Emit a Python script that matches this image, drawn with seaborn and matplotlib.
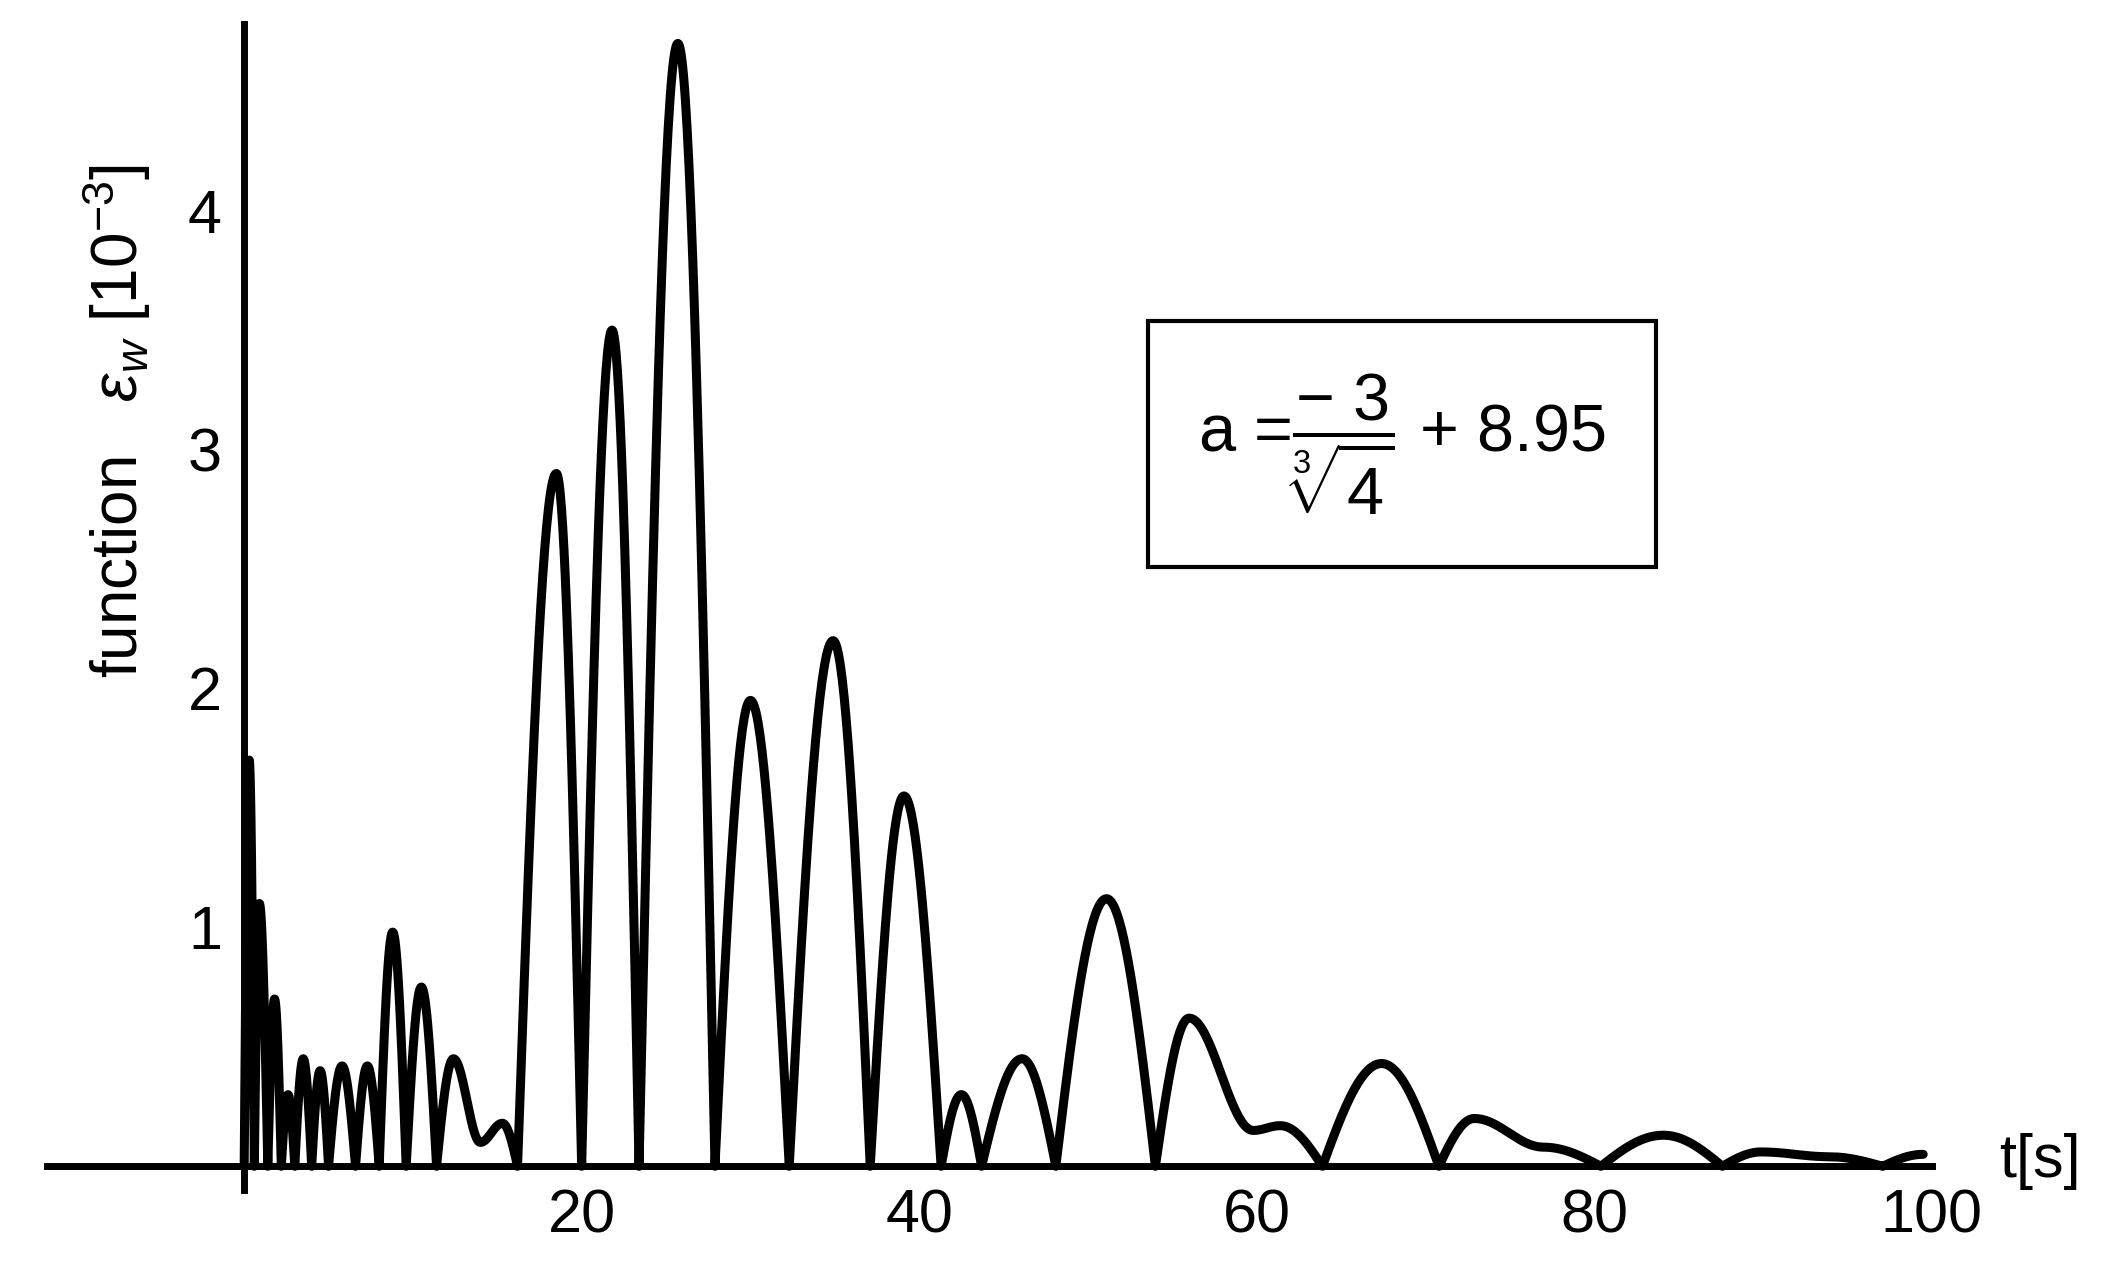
import numpy as np
import pandas as pd
import matplotlib
matplotlib.use("Agg")
import matplotlib.pyplot as plt
import seaborn as sns

# knots of the curve: local extrema and zeros (t, value in 1e-3)
knot_t = [0, 0.3, 0.6, 0.9, 1.4, 1.8, 2.2, 2.6, 3.0, 3.5, 4.0, 4.5, 5.0, 5.8, 6.6, 7.3, 8.0,
          8.8, 9.6, 10.5, 11.4, 12.4, 14.0, 15.3, 16.2, 18.5, 20.0, 21.8, 23.4, 25.7, 27.9,
          30.0, 32.3, 34.9, 37.1, 39.1, 41.3, 42.5, 43.7, 46.1, 48.1, 51.1, 54.0, 56.0, 59.8,
          61.4, 63.9, 67.4, 70.8, 72.9, 77.0, 80.4, 84.1, 87.6, 89.9, 93.9, 97.1, 99.5]
knot_y = [0, 1.7, 0, 1.1, 0, 0.7, 0, 0.3, 0, 0.45, 0, 0.4, 0, 0.42, 0, 0.42, 0,
          0.98, 0, 0.75, 0, 0.45, 0.1, 0.18, 0, 2.9, 0, 3.5, 0, 4.7, 0,
          1.95, 0, 2.2, 0, 1.55, 0, 0.3, 0, 0.45, 0, 1.12, 0, 0.62, 0.15,
          0.17, 0, 0.43, 0, 0.2, 0.08, 0, 0.13, 0, 0.06, 0.04, 0, 0.05]

xticks = [20, 40, 60, 80, 100]
yticks = [1, 2, 3, 4]

# joins between consecutive knots: sine arcs leave zeros as cusps (|sin| shape)
ts, ys = [], []
for i in range(len(knot_t) - 1):
    s = np.linspace(0, 1, 40, endpoint=False)
    y0, y1 = knot_y[i], knot_y[i + 1]
    if y0 == 0:
        w = np.sin(np.pi / 2 * s)
    elif y1 == 0:
        w = 1 - np.cos(np.pi / 2 * s)
    else:
        w = (1 - np.cos(np.pi * s)) / 2
    ts.extend(knot_t[i] + (knot_t[i + 1] - knot_t[i]) * s)
    ys.extend(y0 + (y1 - y0) * w)
ts.append(knot_t[-1]); ys.append(knot_y[-1])
df = pd.DataFrame({"t": ts, "eps": ys})

sns.set_style("white")
plt.rcParams['font.family'] = ['Liberation Sans', 'DejaVu Sans']
plt.rcParams['text.color'] = 'black'
plt.rcParams['xtick.color'] = 'black'
plt.rcParams['ytick.color'] = 'black'
plt.rcParams['mathtext.fontset'] = 'custom'
plt.rcParams['mathtext.rm'] = 'Liberation Sans'
plt.rcParams['mathtext.it'] = 'Liberation Sans:italic'

fig = plt.figure(figsize=(21.25, 12.77), dpi=100)
ax = fig.add_axes([0.022, 0.068, 0.887, 0.913])
sns.lineplot(data=df, x="t", y="eps", ax=ax, color="black", lw=6.5, sort=False)
ax.set_xlim(-11.7, 100)
ax.set_ylim(-0.1, 4.78)
for s in ["top", "right"]:
    ax.spines[s].set_visible(False)
ax.spines["left"].set_position(("data", 0))
ax.spines["bottom"].set_position(("data", 0))
for s in ["left", "bottom"]:
    ax.spines[s].set_linewidth(5)
    ax.spines[s].set_color("black")
ax.set_xticks(xticks)
ax.set_yticks(yticks)
ax.tick_params(direction="in", length=8, width=2, labelsize=44, pad=16)
ax.set_xlabel(""); ax.set_ylabel("")
fig.text(0.055, 0.67, r"function   $\epsilon_w$ [10$^{-3}$]", rotation=90,
         fontsize=46, ha="center", va="center")
ax.text(104, 0.02, "t[s]", fontsize=44, ha="left", va="center", clip_on=False)
ax.text(0.719, 0.64, r"a =$\dfrac{-\ 3}{\sqrt[3]{4}}$ + 8.95", transform=ax.transAxes,
        fontsize=48, ha="center", va="center",
        bbox=dict(boxstyle="square,pad=0.75", fc="white", ec="black", lw=3))
fig.savefig("out.png", dpi=100)
